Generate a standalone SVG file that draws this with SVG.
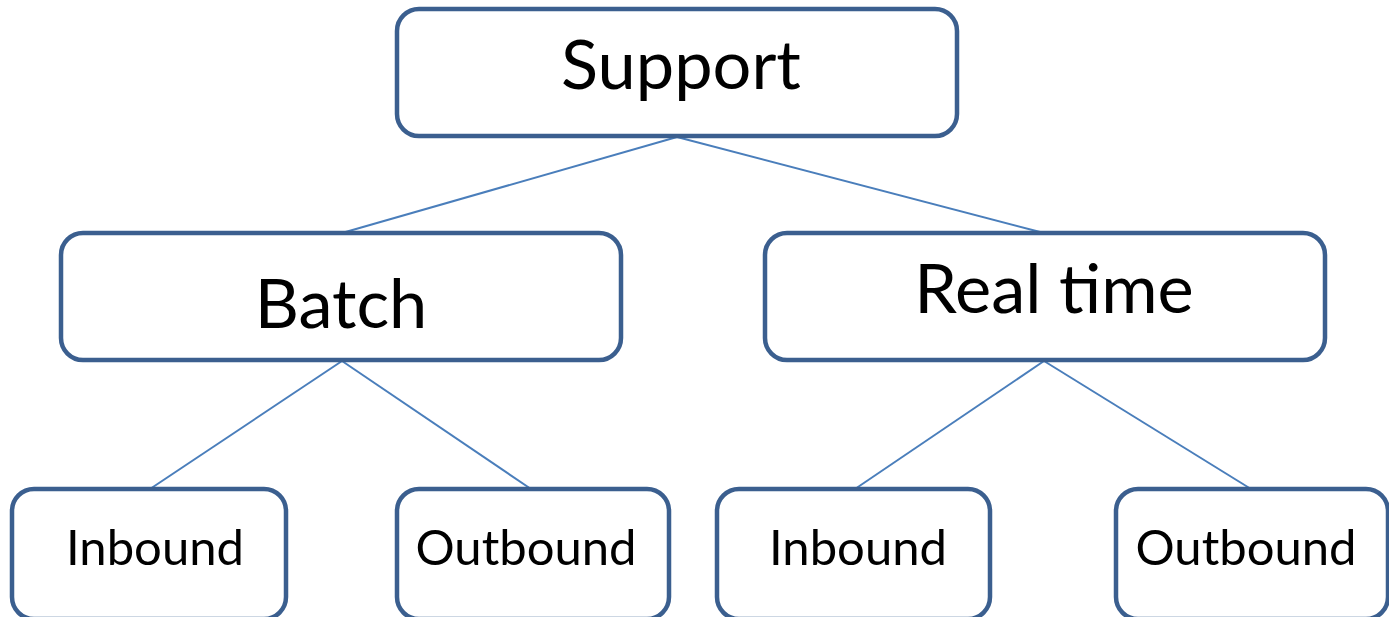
<svg xmlns="http://www.w3.org/2000/svg" width="1389" height="617" viewBox="0 0 1389 617">
  <style>
    .box { fill: #ffffff; stroke: #3b5f8f; stroke-width: 4.5; }
    .link { stroke: #4a7ebb; stroke-width: 2; fill: none; }
    .lbl { font-family: Lato, "Liberation Sans", sans-serif; fill: #000000; text-anchor: middle; }
    .big { font-size: 68.5px; }
    .small { font-size: 49px; }
  </style>
  <rect width="1389" height="617" fill="#ffffff"/>
  <g id="connectors">
    <line class="link" x1="677" y1="137" x2="342" y2="233"/>
    <line class="link" x1="677" y1="137" x2="1044" y2="233"/>
    <line class="link" x1="342" y1="361" x2="150" y2="489"/>
    <line class="link" x1="342" y1="361" x2="531" y2="489"/>
    <line class="link" x1="1044" y1="361" x2="855" y2="489"/>
    <line class="link" x1="1044" y1="361" x2="1251" y2="489"/>
  </g>
  <g id="support">
    <rect class="box" x="397" y="9" width="560" height="127" rx="22"/>
    <text class="lbl big" x="681" y="89">Support</text>
  </g>
  <g id="batch">
    <rect class="box" x="61" y="233" width="560" height="127" rx="22"/>
    <text class="lbl big" x="341" y="328">Batch</text>
  </g>
  <g id="realtime">
    <rect class="box" x="765" y="233" width="560" height="127" rx="22"/>
    <text class="lbl big" x="1054" y="313">Real time</text>
  </g>
  <g id="batch-inbound">
    <rect class="box" x="12" y="489" width="274" height="130" rx="22"/>
    <text class="lbl small" x="155" y="565">Inbound</text>
  </g>
  <g id="batch-outbound">
    <rect class="box" x="397" y="489" width="272" height="130" rx="22"/>
    <text class="lbl small" x="526" y="565">Outbound</text>
  </g>
  <g id="realtime-inbound">
    <rect class="box" x="717" y="489" width="273" height="130" rx="22"/>
    <text class="lbl small" x="858" y="565">Inbound</text>
  </g>
  <g id="realtime-outbound">
    <rect class="box" x="1116" y="489" width="272" height="130" rx="22"/>
    <text class="lbl small" x="1246" y="565">Outbound</text>
  </g>
</svg>
